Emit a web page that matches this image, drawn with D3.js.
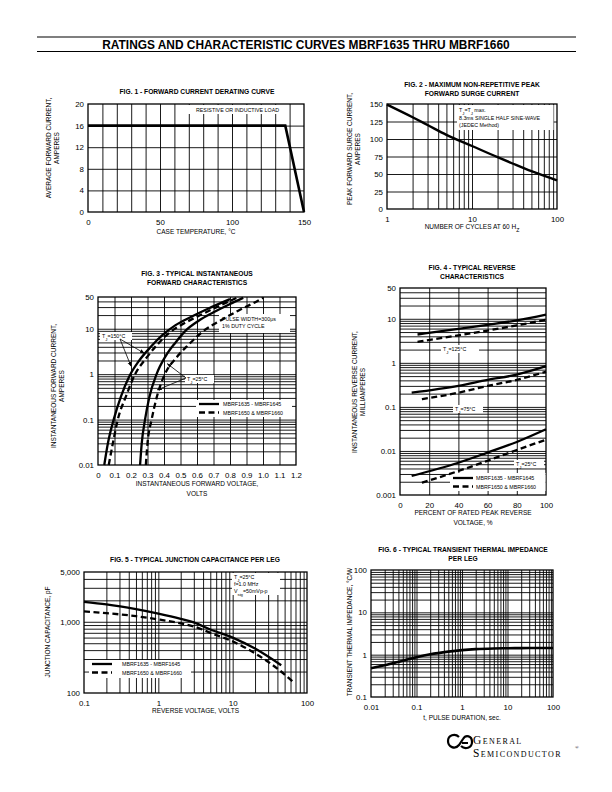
<!DOCTYPE html>
<html><head><meta charset="utf-8">
<script src="https://cdn.jsdelivr.net/npm/d3@7"></script>
<style>
body{margin:0;background:#fff}
svg{display:block}
text{font-family:"Liberation Sans",Arial,Helvetica,sans-serif;fill:#000}
</style>
</head><body>
<script>
// ---------------- DATA ----------------
const headerTitle = "RATINGS AND CHARACTERISTIC CURVES MBRF1635 THRU MBRF1660";

// Fig 1
const fig1Temp = [0, 137, 150];
const fig1Current = [16, 16, 0];
const fig1XTicks = [0, 50, 100, 150];
const fig1YTicks = [0, 4, 8, 12, 16, 20];

// Fig 2
const fig2Cycles = [1, 2, 3, 5, 10, 20, 30, 50, 100];
const fig2Current = [149, 131, 120, 106, 90, 74, 65, 54, 41];
const fig2XTicks = [1, 10, 100];
const fig2YTicks = [0, 25, 50, 75, 100, 125, 150];

// Fig 3
const fig3VSolid150 = [0.038, 0.06, 0.095, 0.14, 0.19, 0.25, 0.32, 0.39, 0.47, 0.56, 0.67, 0.8];
const fig3ISolid150 = [0.01, 0.03, 0.1, 0.33, 0.9, 2.0, 4.0, 7.2, 12, 18, 28, 45];
const fig3VDash150 = [0.065, 0.09, 0.12, 0.17, 0.225, 0.29, 0.36, 0.43, 0.52, 0.62, 0.72, 0.84];
const fig3IDash150 = [0.01, 0.03, 0.1, 0.33, 1, 2.2, 4.5, 8, 13, 20, 30, 48];
const fig3VSolid25 = [0.255, 0.265, 0.285, 0.31, 0.355, 0.41, 0.47, 0.53, 0.61, 0.7, 0.8, 0.88];
const fig3ISolid25 = [0.01, 0.03, 0.1, 0.3, 1, 2.5, 5, 9, 15, 23, 35, 48];
const fig3VDash25 = [0.29, 0.3, 0.325, 0.355, 0.405, 0.47, 0.55, 0.64, 0.74, 0.85, 0.95, 1.0];
const fig3IDash25 = [0.01, 0.03, 0.1, 0.3, 1, 2.2, 4.5, 9, 15, 25, 38, 48];
const fig3XTicks = [0, 0.1, 0.2, 0.3, 0.4, 0.5, 0.6, 0.7, 0.8, 0.9, 1.0, 1.1, 1.2];
const fig3XTickLabels = ["0", "0.1", "0.2", "0.3", "0.4", "0.5", "0.6", "0.7", "0.8", "0.9", "1.0", "1.1", "1.2"];
const fig3YTicks = [0.01, 0.1, 1, 10, 50];
const fig3YTickLabels = ["0.01", "0.1", "1", "10", "50"];
const fig3Arrows150 = [[0.2, 1.5], [0.28, 2.9]];
const fig3Arrows25 = [[0.42, 1.7], [0.36, 0.45]];

// Fig 4
const fig4Pct125 = [12, 40, 60, 80, 100];
const fig4Solid125 = [4.4, 5.9, 7.3, 9.2, 12.5];
const fig4Dash125 = [3.0, 4.2, 5.4, 7.1, 9.5];
const fig4PctSolid = [8, 40, 60, 80, 100];
const fig4PctDash = [15, 40, 60, 80, 100];
const fig4Solid75 = [0.21, 0.3, 0.41, 0.54, 0.84];
const fig4Dash75 = [0.15, 0.21, 0.3, 0.41, 0.63];
const fig4Solid25 = [0.0027, 0.0054, 0.0092, 0.016, 0.031];
const fig4Dash25 = [0.0019, 0.0035, 0.006, 0.0105, 0.018];
const fig4XTicks = [0, 20, 40, 60, 80, 100];
const fig4YTicks = [0.001, 0.01, 0.1, 1, 10, 50];
const fig4YTickLabels = ["0.001", "0.01", "0.1", "1", "10", "50"];

// Fig 5
const fig5VSolid = [0.1, 0.2, 0.5, 1, 2, 3, 5, 10, 20, 45];
const fig5CSolid = [1900, 1750, 1500, 1300, 1100, 980, 780, 600, 420, 245];
const fig5VDash = [0.1, 0.2, 0.5, 1, 2, 3, 5, 10, 20, 40, 68];
const fig5CDash = [1400, 1320, 1200, 1080, 950, 860, 700, 530, 360, 220, 138];
const fig5XTicks = [0.1, 1, 10, 100];
const fig5XTickLabels = ["0.1", "1", "10", "100"];
const fig5YTicks = [100, 1000, 5000];
const fig5YTickLabels = ["100", "1,000", "5,000"];

// Fig 6
const fig6Time = [0.01, 0.02, 0.05, 0.1, 0.2, 0.5, 1, 2, 5, 10, 20, 50, 100];
const fig6Imp = [0.48, 0.56, 0.72, 0.87, 1.02, 1.18, 1.28, 1.35, 1.4, 1.42, 1.43, 1.44, 1.44];
const fig6XTicks = [0.01, 0.1, 1, 10, 100];
const fig6XTickLabels = ["0.01", "0.1", "1", "10", "100"];
const fig6YTicks = [0.1, 1, 10, 100];
const fig6YTickLabels = ["0.1", "1", "10", "100"];

const legendSolid = "MBRF1635 - MBRF1645";
const legendDash = "MBRF1650 & MBRF1660";

// ---------------- HELPERS ----------------
const svg = d3.select("body").append("svg").attr("width", 612).attr("height", 792);

function logGrid(lo, hi) {
  const out = [];
  for (let e = Math.floor(Math.log10(lo)); Math.pow(10, e) < hi; e++) {
    for (let k = 1; k < 10; k++) {
      const v = +(k * Math.pow(10, e)).toPrecision(6);
      if (v > lo * 1.0001 && v < hi * 0.9999) out.push(v);
    }
  }
  return out;
}
function range(a, b, s) { const o = []; for (let v = a + s; v < b - s / 2; v += s) o.push(+v.toFixed(6)); return o; }

const TICK = 7.9, LAB = 6.5, TITLE = 6.7, ANN = 5.3;

function panel(o) {
  const x = (o.xlog ? d3.scaleLog() : d3.scaleLinear()).domain(o.xd).range([o.x0, o.x1]);
  const y = (o.ylog ? d3.scaleLog() : d3.scaleLinear()).domain(o.yd).range([o.y1, o.y0]);
  const g = svg.append("g");
  const h = o.y1 - o.y0, w = o.x1 - o.x0;
  const gx = g.append("g").attr("transform", `translate(0,${o.y1})`)
    .call(d3.axisBottom(x).tickValues(o.xg).tickSize(-h).tickFormat(""));
  const gy = g.append("g").attr("transform", `translate(${o.x0},0)`)
    .call(d3.axisLeft(y).tickValues(o.yg).tickSize(-w).tickFormat(""));
  [gx, gy].forEach(a => { a.select(".domain").remove(); a.selectAll("line").attr("stroke", "#000").attr("stroke-width", o.gw || 0.9); });
  g.append("rect").attr("x", o.x0).attr("y", o.y0).attr("width", w).attr("height", h)
    .attr("fill", "none").attr("stroke", "#000").attr("stroke-width", 1.3);
  const lx = g.append("g").attr("transform", `translate(0,${o.y1})`)
    .call(d3.axisBottom(x).tickValues(o.xt).tickSize(0).tickPadding(o.xpad || 7)
      .tickFormat((d, i) => o.xtl ? o.xtl[i] : d));
  const ly = g.append("g").attr("transform", `translate(${o.x0},0)`)
    .call(d3.axisLeft(y).tickValues(o.yt).tickSize(0).tickPadding(o.ypad || 4)
      .tickFormat((d, i) => o.ytl ? o.ytl[i] : d));
  [lx, ly].forEach(a => {
    a.select(".domain").remove();
    a.attr("font-family", null).attr("font-size", null);
    a.selectAll("text").attr("font-size", TICK);
  });
  o.title.forEach((t, i) => g.append("text").attr("x", o.tx).attr("y", o.ty + i * 8.8)
    .attr("text-anchor", "middle").attr("font-weight", "bold").attr("font-size", TITLE).text(t));
  o.xlab.forEach((t, i) => g.append("text").attr("x", (o.x0 + o.x1) / 2 + (o.xlabdx || 0)).attr("y", o.xly + i * 9.5)
    .attr("text-anchor", "middle").attr("font-size", LAB).text(t));
  o.ylab.forEach((t, i) => g.append("text")
    .attr("transform", `translate(${o.ylx + i * 8.3},${o.yly}) rotate(-90)`)
    .attr("text-anchor", "middle").attr("font-size", LAB).text(t));
  return { g, x, y };
}
function whiteBox(g, x, y, w, h) {
  g.append("rect").attr("x", x).attr("y", y).attr("width", w).attr("height", h).attr("fill", "#fff");
}
function txt(g, x, y, s, size, anchor) {
  return g.append("text").attr("x", x).attr("y", y).attr("font-size", size || ANN)
    .attr("text-anchor", anchor || "start").text(s);
}
function curve(g, sx, sy, xs, ys, dashed, width, interp) {
  const pts = xs.map((v, i) => [sx(v), sy(ys[i])]);
  g.append("path").attr("d", d3.line().curve(interp || d3.curveMonotoneX)(pts))
    .attr("fill", "none").attr("stroke", "#000").attr("stroke-width", width || 2.3)
    .attr("stroke-dasharray", dashed ? "6,3.5" : null).attr("stroke-linecap", "butt");
}
function legend(g, x, y, textX) {
  g.append("line").attr("x1", x).attr("x2", x + 20).attr("y1", y).attr("y2", y).attr("stroke", "#000").attr("stroke-width", 2.3);
  g.append("line").attr("x1", x).attr("x2", x + 20).attr("y1", y + 8.5).attr("y2", y + 8.5).attr("stroke", "#000").attr("stroke-width", 2.3).attr("stroke-dasharray", "6,3.5");
  txt(g, textX, y + 2, legendSolid, ANN);
  txt(g, textX, y + 10.5, legendDash, ANN);
}
function sub(textSel, parts) {
  parts.forEach(p => {
    const t = textSel.append("tspan").text(p[0]);
    if (p[1]) t.attr("baseline-shift", "sub").attr("font-size", "0.8em");
  });
  return textSel;
}

svg.append("defs").append("marker").attr("id", "arr").attr("viewBox", "0 0 10 10")
  .attr("refX", 9).attr("refY", 5).attr("markerWidth", 6).attr("markerHeight", 6)
  .attr("orient", "auto").append("path").attr("d", "M0,1 L10,5 L0,9 Z").attr("fill", "#000");

// ---------------- HEADER ----------------
svg.append("line").attr("x1", 37).attr("x2", 576).attr("y1", 37).attr("y2", 37).attr("stroke", "#000").attr("stroke-width", 1.2);
svg.append("line").attr("x1", 37).attr("x2", 576).attr("y1", 51.5).attr("y2", 51.5).attr("stroke", "#000").attr("stroke-width", 1.2);
svg.append("text").attr("x", 306).attr("y", 48.5).attr("text-anchor", "middle")
  .attr("font-weight", "bold").attr("font-size", 11.9).text(headerTitle);

// ---------------- FIG 1 ----------------
{
  const p = panel({
    x0: 88, x1: 304, y0: 104, y1: 212, xd: [0, 150], yd: [0, 20],
    xg: range(0, 150, 10), yg: [4, 8, 12, 16],
    xt: fig1XTicks, yt: fig1YTicks,
    title: ["FIG. 1 - FORWARD CURRENT DERATING CURVE"], tx: 197, ty: 94,
    xlab: ["CASE TEMPERATURE, \u00B0C"], xly: 234,
    ylab: ["AVERAGE FORWARD CURRENT,", "AMPERES"], ylx: 51, yly: 148
  });
  whiteBox(p.g, 186, 105, 103, 9);
  txt(p.g, 237.5, 111.5, "RESISTIVE OR INDUCTIVE LOAD", ANN, "middle");
  curve(p.g, p.x, p.y, fig1Temp, fig1Current, false, 2.6, d3.curveLinear);
}

// ---------------- FIG 2 ----------------
{
  const p = panel({
    x0: 387, x1: 557, y0: 104, y1: 209, xd: [1, 100], yd: [0, 150], xlog: true,
    xg: logGrid(1, 100), yg: [25, 50, 75, 100, 125],
    xt: fig2XTicks, yt: fig2YTicks,
    title: ["FIG. 2 - MAXIMUM NON-REPETITIVE PEAK", "FORWARD SURGE CURRENT"], tx: 472, ty: 87,
    xlab: [], xly: 229,
    ylab: ["PEAK FORWARD SURGE CURRENT,", "AMPERES"], ylx: 352, yly: 149
  });
  whiteBox(p.g, 457, 105, 96.5, 25);
  sub(p.g.append("text").attr("x", 459).attr("y", 112).attr("font-size", ANN), [["T"], ["J", 1], ["=T"], ["J", 1], [" max."]]);
  txt(p.g, 459, 119.5, "8.3ms SINGLE HALF SINE-WAVE");
  txt(p.g, 459, 126.5, "(JEDEC Method)");
  sub(p.g.append("text").attr("x", 472).attr("y", 229).attr("text-anchor", "middle").attr("font-size", LAB),
    [["NUMBER OF CYCLES AT 60 H"], ["Z", 1]]);
  curve(p.g, p.x, p.y, fig2Cycles, fig2Current, false, 2.4);
}

// ---------------- FIG 3 ----------------
{
  const p = panel({
    x0: 98, x1: 296, y0: 297, y1: 465, xd: [0, 1.2], yd: [0.01, 50], ylog: true,
    xg: range(0, 1.2, 0.1), yg: logGrid(0.01, 50),
    xt: fig3XTicks, xtl: fig3XTickLabels, yt: fig3YTicks, ytl: fig3YTickLabels,
    title: ["FIG. 3 - TYPICAL INSTANTANEOUS", "FORWARD CHARACTERISTICS"], tx: 197, ty: 276,
    xlab: ["INSTANTANEOUS FORWARD VOLTAGE,", "VOLTS"], xly: 486,
    ylab: ["INSTANTANEOUS FORWARD CURRENT,", "AMPERES"], ylx: 56, yly: 386
  });
  whiteBox(p.g, 219, 314, 71, 19);
  txt(p.g, 222, 320.5, "PULSE WIDTH=300\u03BCs");
  txt(p.g, 222, 328, "1% DUTY CYCLE");
  whiteBox(p.g, 100, 332, 32, 8);
  sub(p.g.append("text").attr("x", 102).attr("y", 338).attr("font-size", ANN), [["T"], ["J", 1], ["=150\u00B0C"]]);
  whiteBox(p.g, 185, 375, 29, 8);
  sub(p.g.append("text").attr("x", 187).attr("y", 381).attr("font-size", ANN), [["T"], ["J", 1], ["=25\u00B0C"]]);
  whiteBox(p.g, 196, 400, 96, 17);
  legend(p.g, 199, 404, 223);
  curve(p.g, p.x, p.y, fig3VSolid150, fig3ISolid150, false);
  curve(p.g, p.x, p.y, fig3VDash150, fig3IDash150, true);
  curve(p.g, p.x, p.y, fig3VSolid25, fig3ISolid25, false);
  curve(p.g, p.x, p.y, fig3VDash25, fig3IDash25, true);
  fig3Arrows150.forEach(a => p.g.append("line").attr("x1", 120).attr("y1", 339).attr("x2", p.x(a[0])).attr("y2", p.y(a[1]))
    .attr("stroke", "#000").attr("stroke-width", 0.8).attr("marker-end", "url(#arr)"));
  fig3Arrows25.forEach(a => p.g.append("line").attr("x1", 186).attr("y1", 378).attr("x2", p.x(a[0])).attr("y2", p.y(a[1]))
    .attr("stroke", "#000").attr("stroke-width", 0.8).attr("marker-end", "url(#arr)"));
}

// ---------------- FIG 4 ----------------
{
  const p = panel({
    x0: 400, x1: 546, y0: 288, y1: 495, xd: [0, 100], yd: [0.001, 50], ylog: true,
    xg: [20, 40, 60, 80], yg: logGrid(0.001, 50),
    xt: fig4XTicks, yt: fig4YTicks, ytl: fig4YTickLabels,
    title: ["FIG. 4 - TYPICAL REVERSE", "CHARACTERISTICS"], tx: 472, ty: 270,
    xlab: ["PERCENT OF RATED PEAK REVERSE", "VOLTAGE, %"], xly: 515,
    ylab: ["INSTANTANEOUS REVERSE CURRENT,", "MILLIAMPERES"], ylx: 357, yly: 392
  });
  whiteBox(p.g, 441, 345, 38, 8);
  sub(p.g.append("text").attr("x", 443).attr("y", 351).attr("font-size", ANN), [["T"], ["J", 1], ["=125\u00B0C"]]);
  whiteBox(p.g, 453, 405, 30, 8);
  sub(p.g.append("text").attr("x", 455).attr("y", 411).attr("font-size", ANN), [["T"], ["J", 1], ["=75\u00B0C"]]);
  whiteBox(p.g, 514, 460, 30, 8);
  sub(p.g.append("text").attr("x", 516).attr("y", 466).attr("font-size", ANN), [["T"], ["J", 1], ["=25\u00B0C"]]);
  whiteBox(p.g, 450, 473, 95.5, 18);
  legend(p.g, 453, 478, 476);
  curve(p.g, p.x, p.y, fig4Pct125, fig4Solid125, false);
  curve(p.g, p.x, p.y, fig4Pct125, fig4Dash125, true);
  curve(p.g, p.x, p.y, fig4PctSolid, fig4Solid75, false);
  curve(p.g, p.x, p.y, fig4PctDash, fig4Dash75, true);
  curve(p.g, p.x, p.y, fig4PctSolid, fig4Solid25, false);
  curve(p.g, p.x, p.y, fig4PctDash, fig4Dash25, true);
}

// ---------------- FIG 5 ----------------
{
  const p = panel({
    x0: 84, x1: 307, y0: 572, y1: 693, xd: [0.1, 100], yd: [100, 5000], xlog: true, ylog: true,
    xg: logGrid(0.1, 100), yg: logGrid(100, 5000),
    xt: fig5XTicks, xtl: fig5XTickLabels, yt: fig5YTicks, ytl: fig5YTickLabels,
    title: ["FIG. 5 - TYPICAL JUNCTION CAPACITANCE PER LEG"], tx: 195, ty: 562,
    xlab: ["REVERSE VOLTAGE, VOLTS"], xly: 713,
    ylab: ["JUNCTION CAPACITANCE, pF"], ylx: 50, yly: 632
  });
  whiteBox(p.g, 232, 573, 48, 22);
  sub(p.g.append("text").attr("x", 234).attr("y", 579).attr("font-size", ANN), [["T"], ["J", 1], ["=25\u00B0C"]]);
  txt(p.g, 234, 586, "f=1.0 MHz");
  sub(p.g.append("text").attr("x", 234).attr("y", 593).attr("font-size", ANN), [["V"], ["sig", 1], ["=50mVp-p"]]);
  whiteBox(p.g, 89, 660, 102, 18);
  legend(p.g, 92, 664, 122);
  curve(p.g, p.x, p.y, fig5VSolid, fig5CSolid, false);
  curve(p.g, p.x, p.y, fig5VDash, fig5CDash, true);
}

// ---------------- FIG 6 ----------------
{
  const p = panel({
    x0: 371, x1: 553, y0: 570, y1: 697, xd: [0.01, 100], yd: [0.1, 100], xlog: true, ylog: true,
    xg: logGrid(0.01, 100), yg: logGrid(0.1, 100),
    xt: fig6XTicks, xtl: fig6XTickLabels, yt: fig6YTicks, ytl: fig6YTickLabels,
    title: ["FIG. 6 - TYPICAL TRANSIENT THERMAL IMPEDANCE", "PER LEG"], tx: 463, ty: 552,
    xlab: ["t, PULSE DURATION, sec."], xly: 720,
    ylab: ["TRANSIENT THERMAL IMPEDANCE, \u00B0C/W"], ylx: 352, yly: 632
  });
  curve(p.g, p.x, p.y, fig6Time, fig6Imp, false, 2.6);
}

// ---------------- LOGO ----------------
{
  const g = svg.append("g");
  g.append("path")
    .attr("d", "M459,737 C455,733 448,735 448,741 C448,747 455,750 459,745 L463,739 C466,734 472,736 472,742 C472,748 465,750 461,746 M462,743 L468,743")
    .attr("fill", "none").attr("stroke", "#000").attr("stroke-width", 2.2);
  const serif = "'Liberation Serif','DejaVu Serif',serif";
  g.append("text").attr("x", 473).attr("y", 743.5).style("font-family", serif)
    .style("font-size", "11.5px").style("font-variant", "small-caps").style("letter-spacing", "1.4px").text("General");
  g.append("text").attr("x", 473).attr("y", 757).style("font-family", serif)
    .style("font-size", "11.5px").style("font-variant", "small-caps").style("letter-spacing", "1.4px").text("Semiconductor");
  g.append("text").attr("x", 575).attr("y", 749).style("font-family", serif)
    .style("font-size", "5px").text("\u00AE");
}
</script>
</body></html>
